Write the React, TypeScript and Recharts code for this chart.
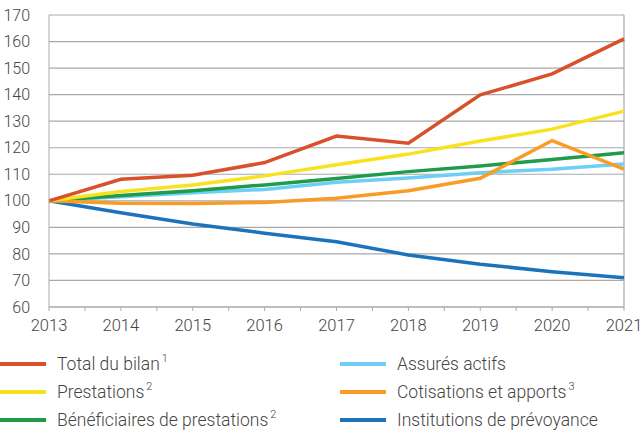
import { CartesianGrid, Line, LineChart, ReferenceLine, XAxis, YAxis } from "recharts";

const years = [2013, 2014, 2015, 2016, 2017, 2018, 2019, 2020, 2021];
const totalBilan = [100, 108.1, 109.6, 114.4, 124.4, 121.7, 139.9, 147.8, 161];
const prestations = [100, 103.5, 106, 109.4, 113.6, 117.6, 122.5, 127, 133.8];
const beneficiaires = [100, 102, 103.8, 106, 108.4, 111, 113.1, 115.6, 118.1];
const assures = [100, 101.5, 103, 104.3, 107, 108.6, 110.6, 111.9, 113.9];
const cotisations = [100, 99.1, 99, 99.4, 101, 103.8, 108.5, 122.7, 111.9];
const institutions = [100, 95.5, 91.3, 87.8, 84.6, 79.6, 76.1, 73.3, 71];
const yTicks = [60, 70, 80, 90, 100, 110, 120, 130, 140, 150, 160, 170];
const xTicks = [
  2013, 2013.5, 2014, 2014.5, 2015, 2015.5, 2016, 2016.5, 2017, 2017.5,
  2018, 2018.5, 2019, 2019.5, 2020, 2020.5, 2021,
];

const series = [
  { key: "total", name: "Total du bilan", sup: "1", color: "#d9512c", values: totalBilan },
  { key: "assures", name: "Assurés actifs", sup: "", color: "#6dcff6", values: assures },
  { key: "prest", name: "Prestations", sup: "2", color: "#f8e21f", values: prestations },
  { key: "cotis", name: "Cotisations et apports", sup: "3", color: "#f89c26", values: cotisations },
  { key: "benef", name: "Bénéficiaires de prestations", sup: "2", color: "#1f9b4a", values: beneficiaires },
  { key: "inst", name: "Institutions de prévoyance", sup: "", color: "#1b74bb", values: institutions },
];

// draw order: back to front
const drawOrder = ["inst", "assures", "benef", "cotis", "prest", "total"];

const data = years.map((y, i) => {
  const row: Record<string, number> = { year: y };
  series.forEach((s) => {
    row[s.key] = s.values[i];
  });
  return row;
});

const font = "Roboto, sans-serif";
const textColor = "#454545";
const gridColor = "#a9a9ab";

const XTick = (props: any) => {
  const { x, y, payload } = props;
  if (!Number.isInteger(payload.value)) return null;
  return (
    <text x={x} y={y + 18} textAnchor="middle" fontSize={16.5} fill={textColor} fontFamily={font} fontWeight={300}>
      {payload.value}
    </text>
  );
};

const App = () => {
  return (
    <div style={{ position: "absolute", left: 0, top: 0, width: 644, height: 430, background: "#fff", fontFamily: font }}>
      <LineChart width={644} height={345} data={data} margin={{ top: 15, right: 20, left: 0, bottom: 0 }}>
        <CartesianGrid vertical={false} stroke={gridColor} strokeWidth={1.2} />
        <XAxis
          dataKey="year"
          type="number"
          domain={[2013, 2021]}
          ticks={xTicks}
          interval={0}
          height={38}
          tickSize={4}
          stroke={gridColor}
          tick={<XTick />}
        />
        <YAxis
          domain={[60, 170]}
          ticks={yTicks}
          interval={0}
          width={49}
          tickLine={false}
          tickSize={0}
          tickMargin={19}
          stroke={gridColor}
          tick={{ fontSize: 16, fill: textColor, fontFamily: font, fontWeight: 300 }}
        />
        <ReferenceLine x={2021} stroke={gridColor} strokeWidth={1.2} />
        {drawOrder.map((k) => {
          const s = series.find((x) => x.key === k)!;
          return (
            <Line
              key={k}
              dataKey={k}
              stroke={s.color}
              strokeWidth={3.5}
              dot={false}
              type="linear"
              isAnimationActive={false}
            />
          );
        })}
      </LineChart>
      <div style={{ position: "absolute", left: 0, top: 350, width: 644 }}>
        {series.map((s, i) => {
          const col = i % 2;
          const row = Math.floor(i / 2);
          return (
            <div
              key={s.key}
              style={{
                position: "absolute",
                left: col === 0 ? 0 : 340,
                top: row * 28,
                height: 28,
                display: "flex",
                alignItems: "center",
                whiteSpace: "nowrap",
              }}
            >
              <div style={{ width: 46, height: 4, background: s.color, marginRight: 11 }} />
              <span style={{ fontSize: 17.5, color: textColor, fontWeight: 300, lineHeight: "28px" }}>
                {s.name}
                {s.sup && (
                  <sup style={{ fontSize: 11, marginLeft: 2, verticalAlign: "top", position: "relative", top: -5 }}>
                    {s.sup}
                  </sup>
                )}
              </span>
            </div>
          );
        })}
      </div>
    </div>
  );
};

export default App;
